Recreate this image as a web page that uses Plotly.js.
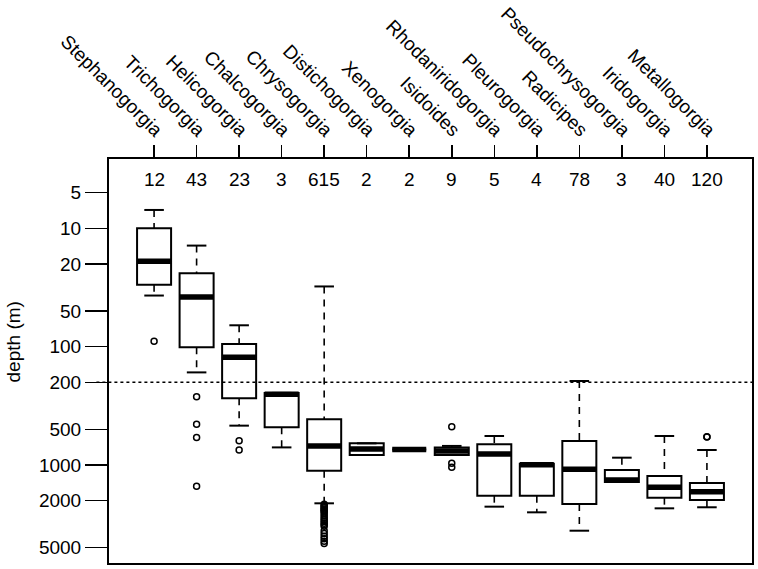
<!DOCTYPE html>
<html>
<head>
<meta charset="utf-8">
<script src="https://cdn.plot.ly/plotly-3.0.1.min.js"></script>
<style>
  html, body { margin: 0; padding: 0; background: #fff; }
  #plot { width: 758px; height: 569px; }
</style>
</head>
<body>
<div id="plot"></div>
<script>
const GENERA = [
  'Stephanogorgia', 'Trichogorgia', 'Helicogorgia', 'Chalcogorgia',
  'Chrysogorgia', 'Distichogorgia', 'Xenogorgia', 'Isidoides',
  'Rhodaniridogorgia', 'Pleurogorgia', 'Radicipes', 'Pseudochrysogorgia',
  'Iridogorgia', 'Metallogorgia',
];
const COUNTS = [12, 43, 23, 3, 615, 2, 2, 9, 5, 4, 78, 3, 40, 120];

// depth stats in metres (shallow whisker end, q1, median, q3, deep whisker end)
const WHISK_LO = [7, 14, 66, 246, 31, 656, 740, 690, 569, 975, 195, 867, 569, 747];
const Q1 = [10, 24, 95, 246, 411, 656, 740, 713, 668, 975, 627, 1101, 1239, 1420];
const MEDIAN = [19, 38, 123, 253, 691, 733, 740, 762, 807, 994, 1087, 1339, 1543, 1682];
const Q3 = [30, 101, 273, 480, 1117, 823, 740, 823, 1816, 1816, 2138, 1392, 1888, 1977];
const WHISK_HI = [37, 165, 465, 710, 2107, 823, 740, 823, 2249, 2511, 3590, 1392, 2323, 2276];
const OUTLIERS = [
  [90],
  [265, 453, 587, 1515],
  [623, 747],
  [],
  [2150, 2200, 2250, 2300, 2350, 2400, 2450, 2500, 2600, 2700, 2800, 2900,
   3000, 3100, 3200, 3300, 3600, 3800, 4000, 4200, 4400, 4600],
  [],
  [],
  [475, 968, 1047],
  [],
  [],
  [],
  [],
  [],
  [577, 580],
];
const Y_TICKS = [5, 10, 20, 50, 100, 200, 500, 1000, 2000, 5000];
const REF_DEPTH = 200;

const FONT = 'Liberation Sans, Arial, Helvetica, sans-serif';
const FONT_SIZE = 19;
const BOX_HALF = 0.4;
const CAP_HALF = 0.23;

const pos = GENERA.map((g, i) => i + 1);

const stemX = [], stemY = [], capX = [], capY = [], medX = [], medY = [];
const outX = [], outY = [];
pos.forEach((p, i) => {
  stemX.push(p, p, null, p, p, null);
  stemY.push(WHISK_LO[i], Q1[i], null, Q3[i], WHISK_HI[i], null);
  capX.push(p - CAP_HALF, p + CAP_HALF, null, p - CAP_HALF, p + CAP_HALF, null);
  capY.push(WHISK_LO[i], WHISK_LO[i], null, WHISK_HI[i], WHISK_HI[i], null);
  medX.push(p - BOX_HALF, p + BOX_HALF, null);
  medY.push(MEDIAN[i], MEDIAN[i], null);
  OUTLIERS[i].forEach(v => { outX.push(p); outY.push(v); });
});

const traces = [
  {
    x: stemX, y: stemY, type: 'scatter', mode: 'lines',
    line: { color: 'black', width: 1.6, dash: '7px,6px' },
    hoverinfo: 'skip',
  },
  {
    type: 'box', x: pos, q1: Q1, median: MEDIAN, q3: Q3,
    lowerfence: Q1, upperfence: Q3,
    width: BOX_HALF * 2, whiskerwidth: 0, boxpoints: false,
    fillcolor: 'white', line: { color: 'black', width: 2 },
    hoverinfo: 'skip',
  },
  {
    x: capX, y: capY, type: 'scatter', mode: 'lines',
    line: { color: 'black', width: 2 }, hoverinfo: 'skip',
  },
  {
    x: medX, y: medY, type: 'scatter', mode: 'lines',
    line: { color: 'black', width: 5.5 }, hoverinfo: 'skip',
  },
  {
    x: outX, y: outY, type: 'scatter', mode: 'markers',
    marker: { symbol: 'circle-open', size: 6, color: 'black', line: { width: 1.5 } },
    hoverinfo: 'skip', cliponaxis: false,
  },
];

const annotations = COUNTS.map((c, i) => ({
  x: pos[i], y: 0.949, xref: 'x', yref: 'paper',
  xanchor: 'center', yanchor: 'middle',
  text: String(c), showarrow: false,
  font: { family: FONT, size: FONT_SIZE, color: 'black' },
}));
annotations.push({
  x: -0.148, y: 0.548, xref: 'paper', yref: 'paper',
  xanchor: 'center', yanchor: 'middle',
  text: 'depth (m)', textangle: -90, showarrow: false,
  font: { family: FONT, size: FONT_SIZE, color: 'black' },
});

const layout = {
  width: 758,
  height: 569,
  margin: { l: 109, r: 6, t: 159, b: 6 },
  paper_bgcolor: 'white',
  plot_bgcolor: 'white',
  showlegend: false,
  font: { family: FONT, size: FONT_SIZE, color: 'black' },
  xaxis: {
    side: 'top',
    range: [-0.06, 15.06],
    tickmode: 'array',
    tickvals: pos,
    ticktext: GENERA,
    tickangle: 45,
    ticklabelshift: 7,
    ticklabelstandoff: -3,
    ticks: 'outside',
    ticklen: 12,
    tickwidth: 1.5,
    tickcolor: 'black',
    showline: true,
    mirror: true,
    linecolor: 'black',
    linewidth: 2,
    showgrid: false,
    zeroline: false,
    tickfont: { family: FONT, size: FONT_SIZE },
  },
  yaxis: {
    type: 'log',
    range: [3.828, 0.4145],
    tickmode: 'array',
    tickvals: Y_TICKS,
    ticktext: Y_TICKS.map(String),
    ticks: 'outside',
    ticklen: 22,
    tickwidth: 1.5,
    tickcolor: 'black',
    showline: true,
    mirror: true,
    linecolor: 'black',
    linewidth: 2,
    showgrid: false,
    zeroline: false,
    tickfont: { family: FONT, size: FONT_SIZE },
  },
  shapes: [{
    type: 'line', xref: 'paper', yref: 'y',
    x0: -0.0196, x1: 1, y0: REF_DEPTH, y1: REF_DEPTH,
    line: { color: 'black', width: 1.5, dash: '3px,3px' },
    layer: 'above',
  }],
  annotations: annotations,
};

Plotly.newPlot('plot', traces, layout, { displayModeBar: false, staticPlot: true });
</script>
</body>
</html>
